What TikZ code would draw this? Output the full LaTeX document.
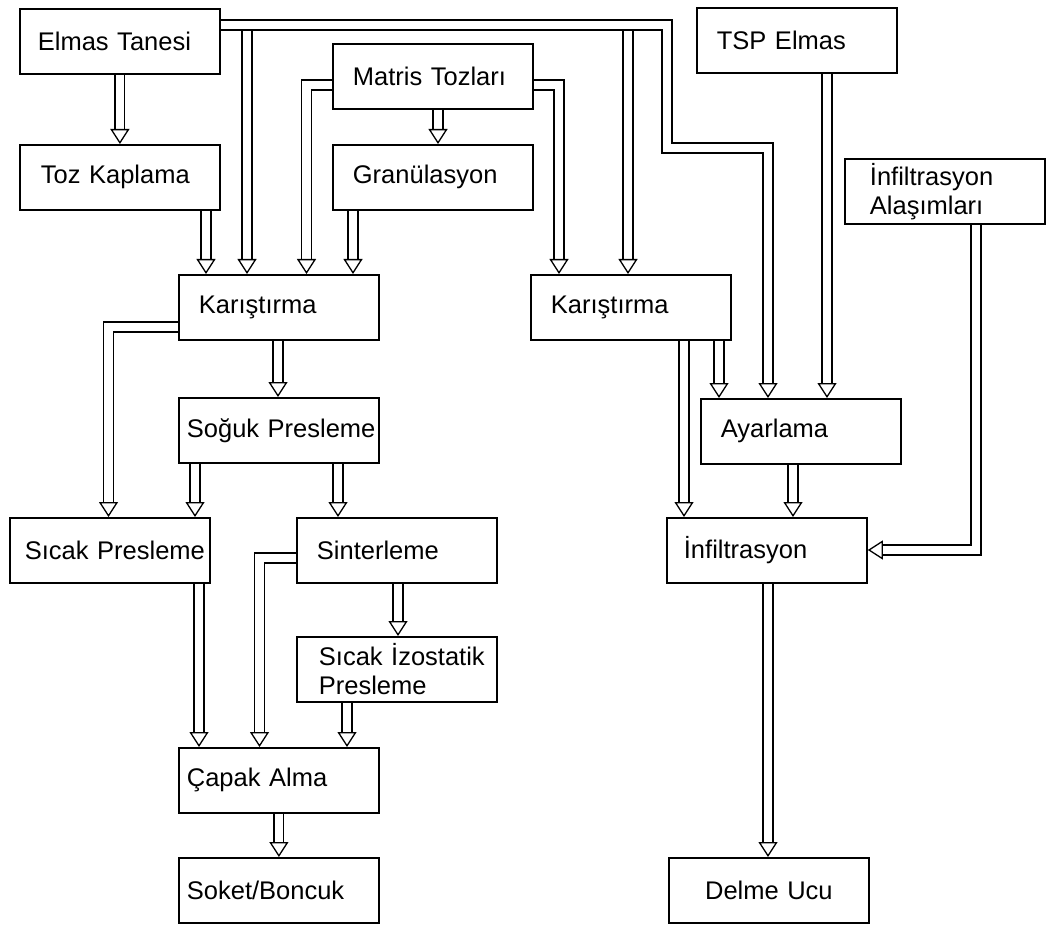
\documentclass[tikz,border=0pt]{standalone}
\usepackage{fontspec}
\setmainfont{Liberation Sans}
\usetikzlibrary{arrows.meta}

\tikzset{
  box/.style={draw, line width=1.8pt, anchor=north west, minimum width=200pt,
    minimum height=65pt, inner xsep=0pt, text width=200pt, align=left,
    execute at begin node={\hspace*{#1}}},
  box/.default=20pt,
  flow/.style={double, double distance=8.5pt, line width=1.3pt, line join=miter,
    -{Triangle[length=15pt, width=19pt, line width=1.3pt, fill=white]}},
}

\begin{document}
\begin{tikzpicture}[x=1pt,y=-1pt,font=\fontsize{25.5}{29}\selectfont]
\useasboundingbox (0,0) rectangle (1046,925);
  \node[box=18pt]  (elmas)  at (19,8)    {Elmas Tanesi};
  \node[box]       (tsp)    at (696,7)   {TSP Elmas};
  \node[box]       (matris) at (332,43)  {Matris Tozları};
  \node[box=21pt]  (toz)    at (19,144)  {Toz Kaplama};
  \node[box]       (gran)   at (332,144) {Granülasyon};
  \node[box=25pt]  (alasim) at (844,158) {İnfiltrasyon\\\hspace*{25pt}Alaşımları};
  \node[box]       (karL)   at (178,274) {Karıştırma};
  \node[box]       (karR)   at (530,274) {Karıştırma};
  \node[box=8pt]   (soguk)  at (178,397) {Soğuk Presleme};
  \node[box]       (ayar)   at (700,398) {Ayarlama};
  \node[box=15pt]  (sicak)  at (9,517)   {Sıcak Presleme};
  \node[box]       (sinter) at (296,517) {Sinterleme};
  \node[box=17pt]  (infil)  at (666,517) {İnfiltrasyon};
  \node[box=22pt]  (sip)    at (296,636) {Sıcak İzostatik\\\hspace*{22pt}Presleme};
  \node[box=8pt]   (capak)  at (178,747) {Çapak Alma};
  \node[box=8pt]   (soket)  at (178,857) {Soket/Boncuk};
  \node[box=0pt,align=center] (delme) at (668,857) {Delme Ucu};

  \coordinate (e1) at (247,25);
  \coordinate (e2) at (628,25);

  % upper part
  \draw[flow] (elmas) -- (toz);
  \draw[flow] (toz.south -| 206,0) -- (karL.north -| 206,0);
  \draw[flow] (e1) -- (karL.north -| e1);
  \draw[flow] (e2) -- (karR.north -| e2);
  \draw[flow] (elmas.east |- e1) -| (667,148) -| (ayar.north -| 768,0);
  \draw[flow] (matris.west |- 0,85) -| (karL.north -| 306.5,0);
  \draw[flow] (gran.south -| 353,0) -- (karL.north -| 353,0);
  \draw[flow] (matris.south -| 438,0) -- (gran.north -| 438,0);
  \draw[flow] (matris.east |- 0,85) -| (karR.north -| 559,0);
  \draw[flow] (tsp.south -| 827,0) -- (ayar.north -| 827,0);
  \draw[flow] (karR.south -| 719,0) -- (ayar.north -| 719,0);
  \draw[flow] (karR.south -| 684,0) -- (infil.north -| 684,0);
  \draw[flow] (ayar.south -| 793,0) -- (infil.north -| 793,0);
  \draw[flow] (alasim.south -| 976,0) |- (infil.east |- 0,550);
  \draw[flow] (infil.south -| 768,0) -- (delme.north -| 768,0);

  % lower part
  \draw[flow] (karL.south -| 278,0) -- (soguk.north -| 278,0);
  \draw[flow] (karL.west |- 0,327) -| (sicak.north -| 108.5,0);
  \draw[flow] (soguk.south -| 195,0) -- (sicak.north -| 195,0);
  \draw[flow] (soguk.south -| 338,0) -- (sinter.north -| 338,0);
  \draw[flow] (sinter.south -| 398,0) -- (sip.north -| 398,0);
  \draw[flow] (sinter.west |- 0,558) -| (capak.north -| 259.5,0);
  \draw[flow] (sicak.south -| 199,0) -- (capak.north -| 199,0);
  \draw[flow] (sip.south -| 347,0) -- (capak.north -| 347,0);
  \draw[flow] (capak) -- (soket);
\end{tikzpicture}
\end{document}
